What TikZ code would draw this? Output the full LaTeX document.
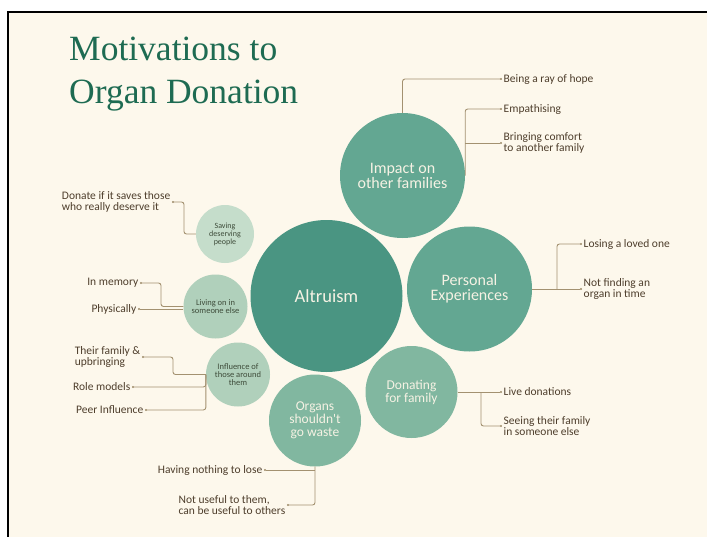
\documentclass[tikz,border=0pt]{standalone}
\usepackage{fontspec}
\setmainfont{Liberation Serif}
\newfontfamily\lab{Carlito}
\usetikzlibrary{arrows.meta}
\definecolor{cream}{HTML}{FDF8EC}
\definecolor{ttl}{HTML}{1E6B52}
\definecolor{cA}{HTML}{4A9582}
\definecolor{cB}{HTML}{63A792}
\definecolor{cC}{HTML}{81B7A0}
\definecolor{cD}{HTML}{B0D0BB}
\definecolor{cE}{HTML}{C5DDCB}
\definecolor{ctxt}{HTML}{F6F2E4}
\definecolor{dtxt}{HTML}{3E4C3A}
\definecolor{ltxt}{HTML}{4E3E2C}
\definecolor{lcol}{HTML}{A39170}
\tikzset{
  bub/.style={circle,inner sep=0pt,align=center,text=ctxt},
  sbub/.style={circle,inner sep=0pt,align=center,text=dtxt,font=\lab\fontsize{8.5}{8}\selectfont},
  lbl/.style={inner sep=1.5pt,text=ltxt,align=left,font=\lab\fontsize{11.5}{11.5}\selectfont},
  conn/.style={draw=lcol,line width=0.9pt,rounded corners=2.5pt,-{Circle[length=2pt]}},
}
\begin{document}
\begin{tikzpicture}[x=1pt,y=-1pt]
\useasboundingbox (0,0) rectangle (707,536);
\fill[white] (0,0) rectangle (707,536);
\fill[cream] (8,12) rectangle (712,545);
\draw[black,line width=2pt] (8,545) -- (8,12) -- (712,12);
% title
\node[anchor=base west,inner sep=0pt,text=ttl,font=\fontsize{35.5}{35.5}\selectfont] (t1) at (69,60) {Motivations to};
\node[anchor=base west,inner sep=0pt,text=ttl,font=\fontsize{35.5}{35.5}\selectfont] (t2) at (69,103) {Organ Donation};
% bubbles
\node[bub,fill=cA,minimum size=152pt,font=\lab\fontsize{18.5}{18.5}\selectfont] (alt) at (326.5,296) {Altruism};
\node[bub,fill=cB,minimum size=125pt,font=\lab\fontsize{16}{15}\selectfont] (imp) at (402.5,175.5) {Impact on\\other families};
\node[bub,fill=cB,minimum size=125pt,font=\lab\fontsize{16}{15}\selectfont] (pers) at (469.5,289) {Personal\\Experiences};
\node[bub,fill=cC,minimum size=92pt,font=\lab\fontsize{13.5}{13}\selectfont] (don) at (411.5,392) {Donating\\for family};
\node[bub,fill=cC,minimum size=92pt,font=\lab\fontsize{13.5}{13}\selectfont] (org) at (315,420.5) {Organs\\shouldn't\\go waste};
\node[sbub,fill=cD,minimum size=64pt] (infl) at (238,374.5) {Influence of\\those around\\them};
\node[sbub,fill=cD,minimum size=64pt] (liv) at (215.5,306.5) {Living on in\\someone else};
\node[sbub,fill=cE,minimum size=58pt,font=\lab\fontsize{8}{8}\selectfont] (sav) at (225,234) {Saving\\deserving\\people};
% labels right
\node[lbl,anchor=west] (ray) at (502,79) {Being a ray of hope};
\node[lbl,anchor=west] (emp) at (502,109) {Empathising};
\node[lbl,anchor=west] (bring) at (502,143) {Bringing comfort\\to another family};
\node[lbl,anchor=west] (lose) at (582,244) {Losing a loved one};
\node[lbl,anchor=west] (notf) at (582,289) {Not finding an\\organ in time};
\node[lbl,anchor=west] (live) at (502,392) {Live donations};
\node[lbl,anchor=west] (seeing) at (502,426) {Seeing their family\\in someone else};
% labels left / bottom
\node[lbl,anchor=east] (nothing) at (264,470) {Having nothing to lose};
\node[lbl,anchor=east] (notuse) at (287,505) {Not useful to them,\\can be useful to others};
\node[lbl,anchor=east] (peer) at (145,410) {Peer Influence};
\node[lbl,anchor=east] (role) at (132,387) {Role models};
\node[lbl,anchor=east] (fam) at (142,357) {Their family \&\\upbringing};
\node[lbl,anchor=east] (mem) at (140,283) {In memory};
\node[lbl,anchor=east] (phys) at (138,309) {Physically};
\node[lbl,anchor=east] (dsv) at (172,202) {Donate if it saves those\\who really deserve it};
% connectors
\coordinate (pj) at (557,289);
\coordinate (dj) at (481,392);
\coordinate (ij) at (173,374.5);
\coordinate (lj) at (161,306.5);
\coordinate (sj) at (184,234);
\draw[conn] (imp.north) |- (ray.west);
\draw[conn] (imp.east) |- (emp.west);
\draw[conn,rounded corners=0pt] (imp.east |- bring.west) -- (bring.west);
\draw[conn,-] (pers.east) -- (pj);
\draw[conn] (pj) |- (lose.west);
\draw[conn] (pj) -- (notf.west);
\draw[conn] (don.east) -- (live.west);
\draw[conn] (dj) |- (seeing.west);
\draw[conn] (org.south) |- (notuse.east);
\draw[conn,rounded corners=0pt] (org.south |- nothing.east) -- (nothing.east);
\draw[conn] (infl.west) -- (ij) |- (fam.east);
\draw[conn] (infl.west) |- (role.east);
\draw[conn] (infl.west) |- (peer.east);
\draw[conn] (liv.west) -- (lj) |- (mem.east);
\draw[conn] (liv.west |- phys.east) -- (phys.east);
\draw[conn] (sav.west) -- (sj) |- (dsv.east);
\end{tikzpicture}
\end{document}
